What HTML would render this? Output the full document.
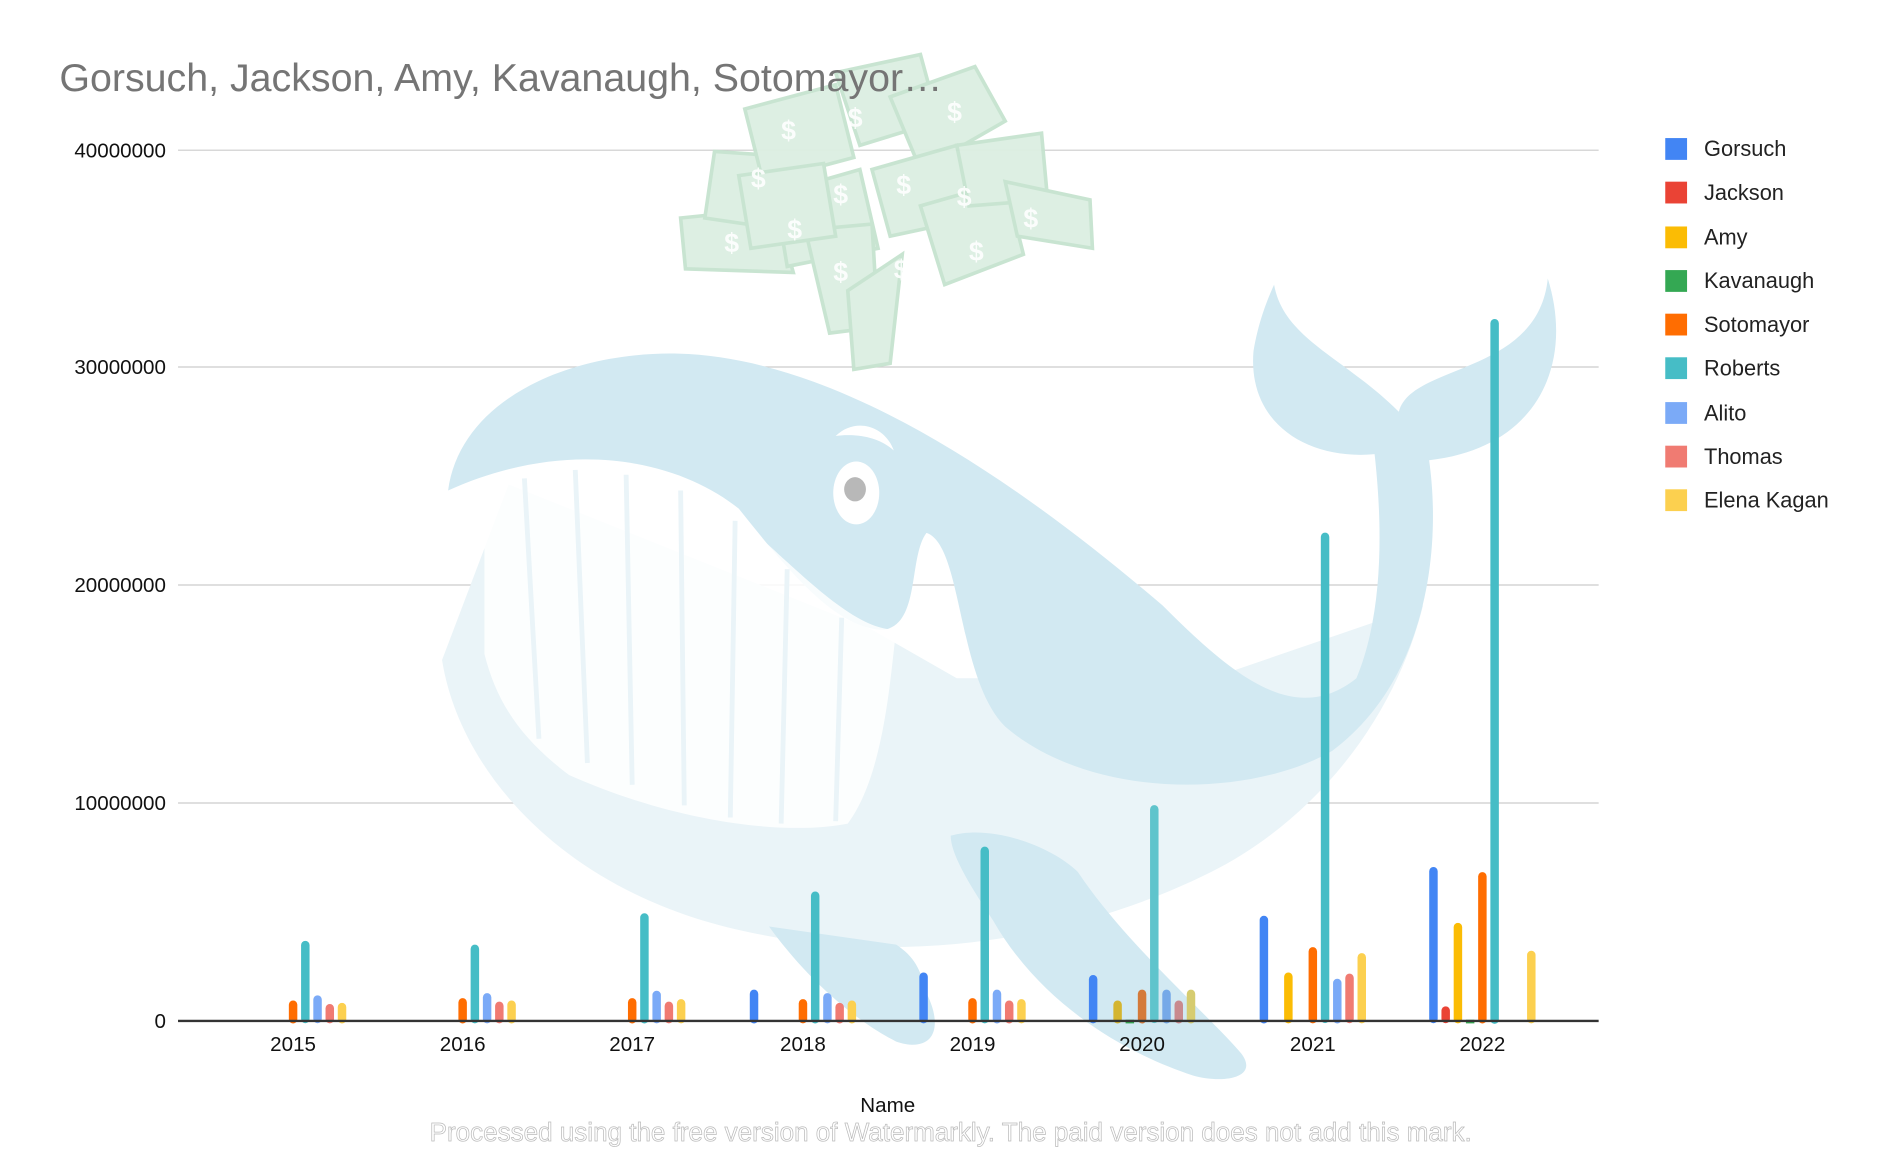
<!DOCTYPE html>
<html><head><meta charset="utf-8"><style>
html,body{margin:0;padding:0;background:#fff}
svg{display:block}
text{font-family:"Liberation Sans",Arial,sans-serif}
</style></head><body>
<svg width="1899" height="1176" viewBox="0 0 1568 971" preserveAspectRatio="none" xmlns="http://www.w3.org/2000/svg">
<rect width="1568" height="971" fill="#fff"/>
<g stroke="#cccccc" stroke-width="1">
<line x1="147" x2="1320" y1="124" y2="124"/>
<line x1="147" x2="1320" y1="303" y2="303"/>
<line x1="147" x2="1320" y1="483" y2="483"/>
<line x1="147" x2="1320" y1="663" y2="663"/>
</g>
<g fill="#dcefe2" stroke="#c6e3cf" stroke-width="3" opacity="0.95">
<polygon points="562,180 640,172 655,225 566,222"/>
<polygon points="590,125 660,130 650,190 582,180"/>
<polygon points="615,90 690,70 705,130 630,150"/>
<polygon points="640,160 710,140 725,205 650,220"/>
<polygon points="665,190 720,185 725,270 685,275"/>
<polygon points="700,240 745,210 735,300 705,305"/>
<polygon points="690,60 760,45 775,100 710,120"/>
<polygon points="735,80 805,55 830,100 760,140"/>
<polygon points="720,140 790,120 805,180 735,195"/>
<polygon points="760,170 830,150 845,210 780,235"/>
<polygon points="790,120 860,110 865,165 800,170"/>
<polygon points="830,150 900,165 902,205 840,195"/>
<polygon points="610,145 680,135 690,195 620,205"/>
</g>
<g fill="#fff" font-size="22" font-weight="bold" opacity="0.9">
<text x="598" y="208">$</text><text x="650" y="197">$</text><text x="688" y="232">$</text>
<text x="738" y="230">$</text><text x="800" y="215">$</text><text x="845" y="188">$</text>
<text x="645" y="115">$</text><text x="700" y="105">$</text><text x="782" y="100">$</text>
<text x="740" y="160">$</text><text x="790" y="170">$</text><text x="620" y="155">$</text><text x="688" y="168">$</text>
</g>
<g>
<path d="M365,545 C380,640 470,740 620,770 C760,800 900,770 1000,720 C1080,680 1150,600 1175,500 L1000,560 L790,560 L720,520 L420,400 Z" fill="#eaf4f8"/>
<path d="M370,405 C380,330 470,290 560,292 C680,295 820,380 960,500 C1020,560 1070,600 1120,560 C1145,500 1140,420 1135,375 C1080,380 1030,350 1035,290 C1040,260 1050,240 1052,235 C1060,280 1110,295 1155,340 C1165,300 1270,310 1278,230 C1300,300 1270,370 1180,380 C1190,450 1180,560 1100,620 C1030,660 900,660 830,600 C790,560 795,450 765,440 C750,460 760,515 730,520 C690,520 650,470 610,420 C560,380 470,360 370,405 Z" fill="#d2e9f2"/>
<path d="M400,400 C470,380 560,390 600,420 C650,460 700,520 740,520 C735,560 730,640 700,680 C650,690 560,680 470,640 C430,610 410,580 400,540 Z" fill="#ffffff" opacity="0.85"/>
<g stroke="#eaf4f8" stroke-width="4">
<line x1="433" y1="395" x2="445" y2="610"/><line x1="475" y1="388" x2="485" y2="630"/>
<line x1="517" y1="392" x2="522" y2="648"/><line x1="562" y1="405" x2="565" y2="665"/>
<line x1="607" y1="430" x2="603" y2="675"/><line x1="650" y1="470" x2="645" y2="680"/>
<line x1="695" y1="510" x2="690" y2="678"/>
</g>
<path d="M785,690 C820,680 870,700 890,720 C930,780 1000,840 1025,870 C1040,890 1010,895 985,888 C930,870 860,830 820,760 C800,730 785,705 785,690 Z" fill="#d2e9f2"/>
<path d="M635,765 C660,800 700,840 740,860 C770,870 780,850 765,820 C760,800 755,790 740,780 Z" fill="#d2e9f2"/>
<ellipse cx="707" cy="407" rx="19" ry="26" fill="#fff"/>
<ellipse cx="706" cy="404" rx="9" ry="10" fill="#b8b8b8"/>
<path d="M690,360 C705,345 730,350 738,372 C725,360 705,358 690,360 Z" fill="#fff"/>
</g>
<g>
<rect x="238.5" y="826.1" width="7" height="19" rx="3.5" fill="#ff6d01"/>
<rect x="248.6" y="776.9" width="7" height="68" rx="3.5" fill="#46bdc6"/>
<rect x="258.7" y="821.9" width="7" height="23" rx="3.5" fill="#7baaf7"/>
<rect x="268.8" y="829" width="7" height="16" rx="3.5" fill="#f07b72"/>
<rect x="278.9" y="828.1" width="7" height="17" rx="3.5" fill="#fcd04f"/>

<rect x="378.5" y="824.1" width="7" height="21" rx="3.5" fill="#ff6d01"/>
<rect x="388.6" y="780" width="7" height="65" rx="3.5" fill="#46bdc6"/>
<rect x="398.7" y="820" width="7" height="25" rx="3.5" fill="#7baaf7"/>
<rect x="408.8" y="827" width="7" height="18" rx="3.5" fill="#f07b72"/>
<rect x="418.9" y="826.1" width="7" height="19" rx="3.5" fill="#fcd04f"/>

<rect x="518.5" y="824.1" width="7" height="21" rx="3.5" fill="#ff6d01"/>
<rect x="528.6" y="754.1" width="7" height="91" rx="3.5" fill="#46bdc6"/>
<rect x="538.7" y="818" width="7" height="27" rx="3.5" fill="#7baaf7"/>
<rect x="548.8" y="827" width="7" height="18" rx="3.5" fill="#f07b72"/>
<rect x="558.9" y="825" width="7" height="20" rx="3.5" fill="#fcd04f"/>

<rect x="619.1" y="817.1" width="7" height="28" rx="3.5" fill="#4285f4"/>
<rect x="659.5" y="825" width="7" height="20" rx="3.5" fill="#ff6d01"/>
<rect x="669.6" y="736.1" width="7" height="109" rx="3.5" fill="#46bdc6"/>
<rect x="679.7" y="820" width="7" height="25" rx="3.5" fill="#7baaf7"/>
<rect x="689.8" y="828.1" width="7" height="17" rx="3.5" fill="#f07b72"/>
<rect x="699.9" y="826.1" width="7" height="19" rx="3.5" fill="#fcd04f"/>

<rect x="759.1" y="803" width="7" height="42" rx="3.5" fill="#4285f4"/>
<rect x="799.5" y="824.1" width="7" height="21" rx="3.5" fill="#ff6d01"/>
<rect x="809.6" y="699" width="7" height="146" rx="3.5" fill="#46bdc6"/>
<rect x="819.7" y="817.1" width="7" height="28" rx="3.5" fill="#7baaf7"/>
<rect x="829.8" y="826.1" width="7" height="19" rx="3.5" fill="#f07b72"/>
<rect x="839.9" y="825" width="7" height="20" rx="3.5" fill="#fcd04f"/>

<rect x="899.1" y="805" width="7" height="40" rx="3.5" fill="#4285f4"/>
<rect x="919.3" y="826.1" width="7" height="19" rx="3.5" fill="#d4b530"/>
<rect x="929.4" y="842" width="7" height="3" fill="#34a853"/>
<rect x="939.5" y="817.1" width="7" height="28" rx="3.5" fill="#d47a3a"/>
<rect x="949.6" y="664.8" width="7" height="180" rx="3.5" fill="#5fc4cc"/>
<rect x="959.7" y="817.1" width="7" height="28" rx="3.5" fill="#75a9e8"/>
<rect x="969.8" y="826.1" width="7" height="19" rx="3.5" fill="#c98a8e"/>
<rect x="979.9" y="817.1" width="7" height="28" rx="3.5" fill="#d6cc70"/>

<rect x="1040.1" y="756.1" width="7" height="89" rx="3.5" fill="#4285f4"/>
<rect x="1060.3" y="803" width="7" height="42" rx="3.5" fill="#fbbc04"/>
<rect x="1080.5" y="782" width="7" height="63" rx="3.5" fill="#ff6d01"/>
<rect x="1090.6" y="439.8" width="7" height="405" rx="3.5" fill="#46bdc6"/>
<rect x="1100.7" y="808.1" width="7" height="37" rx="3.5" fill="#7baaf7"/>
<rect x="1110.8" y="803.9" width="7" height="41" rx="3.5" fill="#f07b72"/>
<rect x="1120.9" y="787" width="7" height="58" rx="3.5" fill="#fcd04f"/>

<rect x="1180.1" y="715.9" width="7" height="129" rx="3.5" fill="#4285f4"/>
<rect x="1190.2" y="830.9" width="7" height="14" rx="3.5" fill="#ea4335"/>
<rect x="1200.3" y="762" width="7" height="83" rx="3.5" fill="#fbbc04"/>
<rect x="1210.4" y="842" width="7" height="3" fill="#34a853"/>
<rect x="1220.5" y="720.1" width="7" height="125" rx="3.5" fill="#ff6d01"/>
<rect x="1230.6" y="263.4" width="7" height="582" rx="3.5" fill="#46bdc6"/>
<rect x="1260.9" y="785" width="7" height="60" rx="3.5" fill="#fcd04f"/>
</g>
<line x1="147" x2="1320" y1="843" y2="843" stroke="#333" stroke-width="2"/>
<text x="49" y="75" font-size="32.5" fill="#757575">Gorsuch, Jackson, Amy, Kavanaugh, Sotomayor…</text>
<g font-size="17" fill="#111" text-anchor="end">
<text x="137" y="130">40000000</text>
<text x="137" y="309">30000000</text>
<text x="137" y="489">20000000</text>
<text x="137" y="669">10000000</text>
<text x="137" y="849">0</text>
</g>
<g font-size="17" fill="#111" text-anchor="middle">
<text x="242" y="868">2015</text><text x="382" y="868">2016</text><text x="522" y="868">2017</text>
<text x="663" y="868">2018</text><text x="803" y="868">2019</text><text x="943" y="868">2020</text>
<text x="1084" y="868">2021</text><text x="1224" y="868">2022</text>
<text x="733" y="918">Name</text>
</g>
<g font-size="18" fill="#222">
<rect x="1375" y="114" width="18" height="18" fill="#4285f4"/><text x="1407" y="129">Gorsuch</text>
<rect x="1375" y="150" width="18" height="18" fill="#ea4335"/><text x="1407" y="165">Jackson</text>
<rect x="1375" y="187" width="18" height="18" fill="#fbbc04"/><text x="1407" y="202">Amy</text>
<rect x="1375" y="223" width="18" height="18" fill="#34a853"/><text x="1407" y="238">Kavanaugh</text>
<rect x="1375" y="259" width="18" height="18" fill="#ff6d01"/><text x="1407" y="274">Sotomayor</text>
<rect x="1375" y="295" width="18" height="18" fill="#46bdc6"/><text x="1407" y="310">Roberts</text>
<rect x="1375" y="332" width="18" height="18" fill="#7baaf7"/><text x="1407" y="347">Alito</text>
<rect x="1375" y="368" width="18" height="18" fill="#f07b72"/><text x="1407" y="383">Thomas</text>
<rect x="1375" y="404" width="18" height="18" fill="#fcd04f"/><text x="1407" y="419">Elena Kagan</text>
</g>
<text x="785" y="942" font-size="21.5" fill="#fff" stroke="#bbb" stroke-width="0.6" text-anchor="middle">Processed using the free version of Watermarkly. The paid version does not add this mark.</text>
</svg>
</body></html>
